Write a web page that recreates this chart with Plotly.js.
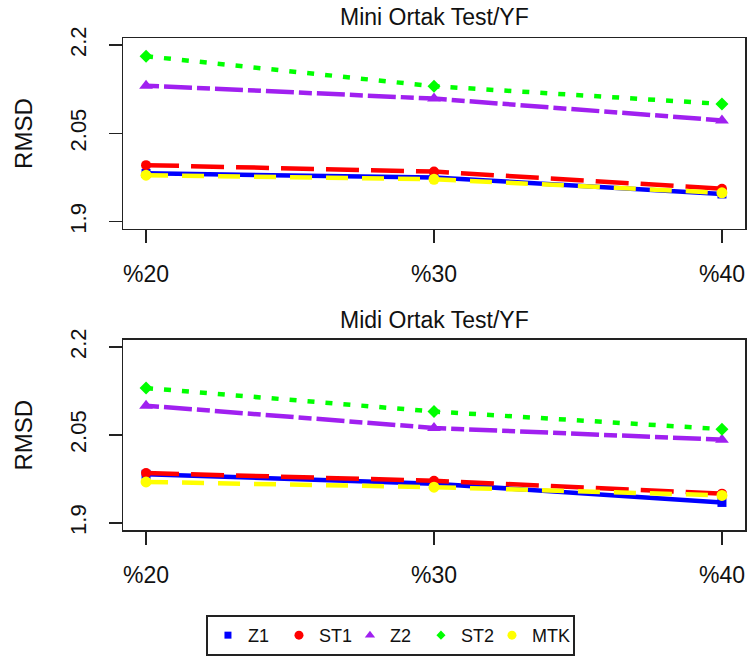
<!DOCTYPE html>
<html>
<head>
<meta charset="utf-8">
<script src="https://cdn.plot.ly/plotly-3.0.1.min.js"></script>
<style>html,body{margin:0;padding:0;background:#fff;}#chart{width:750px;height:659px;}</style>
</head>
<body>
<div id="chart"></div>
<script>
// ---- data ----
const categories = ["%20", "%30", "%40"];
const seriesNames = ["Z1", "ST1", "Z2", "ST2", "MTK"];
const yTickVals = [1.9, 2.05, 2.2];
const yTickText = ["1.9", "2.05", "2.2"];
const panelTitles = ["Mini Ortak Test/YF", "Midi Ortak Test/YF"];
const yLabel = "RMSD";

// Mini Ortak Test/YF
const miniZ1  = [1.982, 1.975, 1.947];
const miniST1 = [1.996, 1.985, 1.956];
const miniZ2  = [2.131, 2.109, 2.072];
const miniST2 = [2.181, 2.130, 2.100];
const miniMTK = [1.979, 1.972, 1.949];

// Midi Ortak Test/YF
const midiZ1  = [1.983, 1.967, 1.935];
const midiST1 = [1.985, 1.972, 1.950];
const midiZ2  = [2.100, 2.062, 2.042];
const midiST2 = [2.130, 2.090, 2.060];
const midiMTK = [1.970, 1.961, 1.947];

// ---- styles ----
const colors  = ["#0000FF", "#FF0000", "#A020F0", "#00FF00", "#FFFF00"];
const symbols = ["square", "circle", "triangle-up", "diamond", "circle"];
const msizes  = [9, 10, 12, 10, 11];
const legSizes = [7, 9, 9, 7, 9];
const legWidths = [26, 26, 26, 26, 36];
const dashes  = ["solid", "33px,12px", "13px,5px,28px,5px", "7px,11px", "22px,14px"];

const miniData = [miniZ1, miniST1, miniZ2, miniST2, miniMTK];
const midiData = [midiZ1, midiST1, midiZ2, midiST2, midiMTK];

const traces = [];
[[miniData, "x", "y"], [midiData, "x2", "y2"]].forEach(([set, xa, ya]) => {
  set.forEach((vals, i) => {
    traces.push({
      type: "scatter", mode: "lines+markers",
      x: categories, y: vals, xaxis: xa, yaxis: ya,
      name: seriesNames[i], showlegend: false, cliponaxis: false,
      line: {color: colors[i], width: 4.5, dash: dashes[i]},
      marker: {color: colors[i], symbol: symbols[i], size: msizes[i]}
    });
  });
});
// legend entries (markers only, as in the reference)
seriesNames.forEach((n, i) => {
  traces.push({
    type: "scatter", mode: "markers", x: [null], y: [null],
    xaxis: "x2", yaxis: "y2", name: n, showlegend: true,
    legendwidth: legWidths[i],
    marker: {color: colors[i], symbol: symbols[i], size: legSizes[i]}
  });
});

const FONT = "Liberation Sans, Arial, sans-serif";
const xAxisBase = {
  type: "category", range: [-0.08, 2.08],
  showline: true, mirror: true, linecolor: "#222", linewidth: 1.5,
  ticks: "outside", ticklen: 13, tickwidth: 1.5, tickcolor: "#222",
  showgrid: false, zeroline: false, fixedrange: true,
  tickfont: {family: FONT, size: 23, color: "#111"},
  ticklabelstandoff: 11
};
const yAxisBase = {
  range: [1.888, 2.212],
  showline: true, mirror: true, linecolor: "#222", linewidth: 1.5,
  ticks: "outside", ticklen: 13, tickwidth: 1.5, tickcolor: "#222",
  showgrid: false, zeroline: false, fixedrange: true,
  tickvals: yTickVals, ticktext: yTickText, tickangle: -90,
  tickfont: {family: FONT, size: 22, color: "#111"},
  ticklabelstandoff: 14
};

const layout = {
  width: 750, height: 659,
  margin: {l: 123, r: 5, t: 38, b: 129, autoexpand: false},
  paper_bgcolor: "#fff", plot_bgcolor: "#fff",
  font: {family: FONT, color: "#111"},
  xaxis:  Object.assign({}, xAxisBase, {anchor: "y"}),
  yaxis:  Object.assign({}, yAxisBase, {domain: [0.6124, 1], anchor: "x"}),
  xaxis2: Object.assign({}, xAxisBase, {anchor: "y2"}),
  yaxis2: Object.assign({}, yAxisBase, {domain: [0, 0.3862], anchor: "x2"}),
  showlegend: true,
  legend: {
    orientation: "h", x: 0.430, xanchor: "center", y: -0.256, yanchor: "bottom",
    bordercolor: "#222", borderwidth: 2, bgcolor: "#fff",
    font: {family: FONT, size: 18, color: "#111"},
    itemwidth: 30, entrywidth: 26, tracegroupgap: 0
  },
  annotations: [
    {text: panelTitles[0], xref: "paper", yref: "paper", x: 0.5, y: 1.043, xanchor: "center", yanchor: "middle", showarrow: false, font: {family: FONT, size: 23, color: "#111"}},
    {text: panelTitles[1], xref: "paper", yref: "paper", x: 0.5, y: 0.427, xanchor: "center", yanchor: "middle", showarrow: false, font: {family: FONT, size: 23, color: "#111"}},
    {text: yLabel, xref: "paper", yref: "paper", x: -0.160, y: 0.806, xanchor: "center", yanchor: "middle", textangle: -90, showarrow: false, font: {family: FONT, size: 24, color: "#111"}},
    {text: yLabel, xref: "paper", yref: "paper", x: -0.160, y: 0.193, xanchor: "center", yanchor: "middle", textangle: -90, showarrow: false, font: {family: FONT, size: 24, color: "#111"}}
  ]
};

Plotly.newPlot("chart", traces, layout, {staticPlot: true, displayModeBar: false});
</script>
</body>
</html>
